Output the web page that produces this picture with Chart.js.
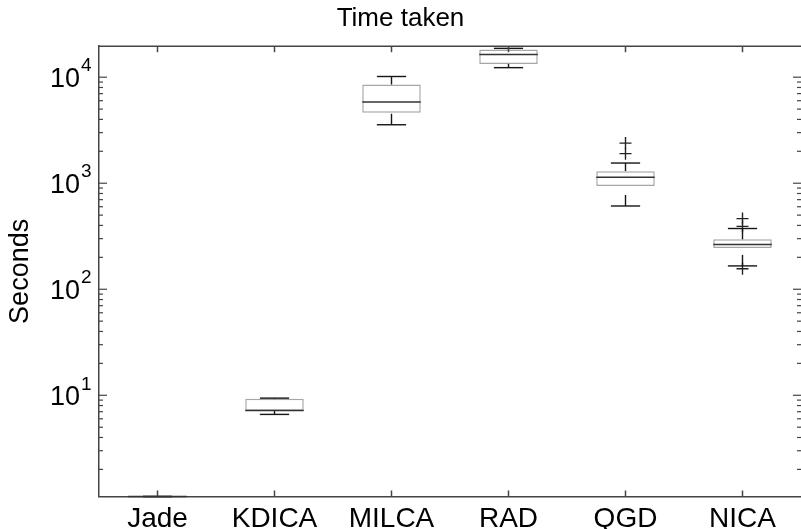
<!DOCTYPE html>
<html>
<head>
<meta charset="utf-8">
<title>Time taken</title>
<script src="https://cdn.jsdelivr.net/npm/chart.js@4.4.1/dist/chart.umd.min.js"></script>
<style>
  body { margin: 0; background: #fff; }
  #wrap { width: 801px; height: 529px; }
</style>
</head>
<body>
<div id="wrap"><canvas id="chart" width="801" height="529"></canvas></div>
<script>
// box plot summary per method (seconds)
const categories = ['Jade', 'KDICA', 'MILCA', 'RAD', 'QGD', 'NICA'];
const lowerWhisker = [1.11, 6.6, 3560, 12300, 610, 166];
const q1 = [1.11, 7.15, 4620, 13350, 940, 245];
const median = [1.11, 7.2, 5820, 16350, 1140, 264];
const q3 = [1.11, 9.25, 8530, 18200, 1300, 296];
const upperWhisker = [1.11, 9.4, 10150, 18700, 1550, 374];
const outlierCats = ['QGD', 'QGD', 'NICA', 'NICA', 'NICA'];
const outlierVals = [1900, 2390, 392, 464, 156];
const yMin = 1.11;
const yMax = 19600;

const FONT = "'Liberation Sans', Arial, Helvetica, sans-serif";

function strokeLine(ctx, x1, y1, x2, y2) {
    ctx.beginPath();
    ctx.moveTo(x1, y1);
    ctx.lineTo(x2, y2);
    ctx.stroke();
}

// whiskers, caps, medians, inner ticks and 10^k labels
const boxParts = {
    id: 'boxParts',
    afterDatasetsDraw(chart) {
        const ctx = chart.ctx;
        const x = chart.scales.x;
        const y = chart.scales.y;
        const step = x.getPixelForValue(1) - x.getPixelForValue(0);
        const capHalf = step * 0.125;
        const boxHalf = step * 0.25;

        ctx.save();
        categories.forEach((c, i) => {
            const cx = x.getPixelForValue(i);
            const yu = y.getPixelForValue(upperWhisker[i]);
            const yl = y.getPixelForValue(lowerWhisker[i]);
            ctx.strokeStyle = '#151515';
            ctx.lineWidth = 1.4;
            // dashed whiskers, dash starts at the cap
            ctx.setLineDash([11, 9]);
            strokeLine(ctx, cx, yu, cx, y.getPixelForValue(q3[i]));
            strokeLine(ctx, cx, yl, cx, y.getPixelForValue(q1[i]));
            ctx.setLineDash([]);
            strokeLine(ctx, cx - capHalf, yu, cx + capHalf, yu);
            strokeLine(ctx, cx - capHalf, yl, cx + capHalf, yl);
            // median
            ctx.strokeStyle = '#333';
            ctx.lineWidth = 1.5;
            const ym = y.getPixelForValue(median[i]);
            strokeLine(ctx, cx - boxHalf, ym, cx + boxHalf, ym);
        });
        ctx.restore();
    },
    afterDraw(chart) {
        const ctx = chart.ctx;
        const area = chart.chartArea;
        const x = chart.scales.x;
        const y = chart.scales.y;
        ctx.save();
        ctx.strokeStyle = '#444';
        ctx.lineWidth = 1.5;
        // top frame line
        strokeLine(ctx, area.left, area.top, area.right, area.top);

        // category ticks, pointing inside
        categories.forEach((c, i) => {
            const cx = x.getPixelForValue(i);
            strokeLine(ctx, cx, area.bottom, cx, area.bottom - 6);
            strokeLine(ctx, cx, area.top, cx, area.top + 6);
        });

        // log ticks on both sides
        ctx.lineWidth = 1.2;
        for (let k = Math.floor(Math.log10(yMin)); k <= Math.ceil(Math.log10(yMax)); k++) {
            for (let m = 1; m <= 9; m++) {
                const v = m * Math.pow(10, k);
                if (v < yMin || v > yMax) continue;
                const py = y.getPixelForValue(v);
                const len = m === 1 ? 8 : 4;
                strokeLine(ctx, area.left, py, area.left + len, py);
                strokeLine(ctx, area.right, py, area.right - len, py);
            }
        }

        // 10^k labels
        ctx.fillStyle = '#000';
        for (let k = Math.ceil(Math.log10(yMin)); k <= Math.floor(Math.log10(yMax)); k++) {
            const py = y.getPixelForValue(Math.pow(10, k));
            ctx.textBaseline = 'middle';
            ctx.textAlign = 'right';
            ctx.font = '27px ' + FONT;
            ctx.fillText('10', 80, py + 2);
            ctx.textAlign = 'left';
            ctx.font = '19px ' + FONT;
            ctx.fillText(String(k), 81, py - 11);
        }
        ctx.restore();
    }
};

const ctx = document.getElementById('chart').getContext('2d');
const chart = new Chart(ctx, {
    type: 'bar',
    data: {
        labels: categories,
        datasets: [{
            label: 'box',
            data: categories.map((c, i) => [q1[i], q3[i]]),
            backgroundColor: '#ffffff',
            borderColor: '#a6a6a6',
            borderWidth: 1.5,
            borderSkipped: false,
            barPercentage: 0.5,
            categoryPercentage: 1.0
        }, {
            type: 'scatter',
            label: 'outliers',
            data: outlierCats.map((c, i) => ({ x: c, y: outlierVals[i] })),
            pointStyle: 'cross',
            pointRadius: 6,
            borderColor: '#222',
            borderWidth: 1.4,
            showLine: false
        }]
    },
    options: {
        responsive: false,
        animation: false,
        devicePixelRatio: 1,
        layout: { autoPadding: false, padding: 0 },
        plugins: {
            legend: { display: false },
            tooltip: { enabled: false },
            title: {
                display: true,
                text: 'Time taken',
                color: '#000',
                font: { family: FONT, size: 26, weight: 'normal' },
                padding: { top: 3, bottom: 12 }
            }
        },
        scales: {
            x: {
                type: 'category',
                offset: true,
                grid: { display: false, drawTicks: false },
                border: { display: true, color: '#444', width: 1.5 },
                ticks: { color: '#000', font: { family: FONT, size: 28 }, padding: 6, maxRotation: 0 },
                afterFit: s => { s.height = 32.5; }
            },
            y: {
                type: 'logarithmic',
                min: yMin,
                max: yMax,
                grid: { display: false, drawTicks: false },
                border: { display: true, color: '#444', width: 1.5 },
                ticks: { display: false },
                title: {
                    display: true,
                    text: 'Seconds',
                    color: '#000',
                    font: { family: FONT, size: 27 },
                    padding: { top: 4, bottom: 0 }
                },
                afterFit: s => { s.width = 99; }
            }
        }
    },
    plugins: [boxParts]
});
</script>
</body>
</html>
